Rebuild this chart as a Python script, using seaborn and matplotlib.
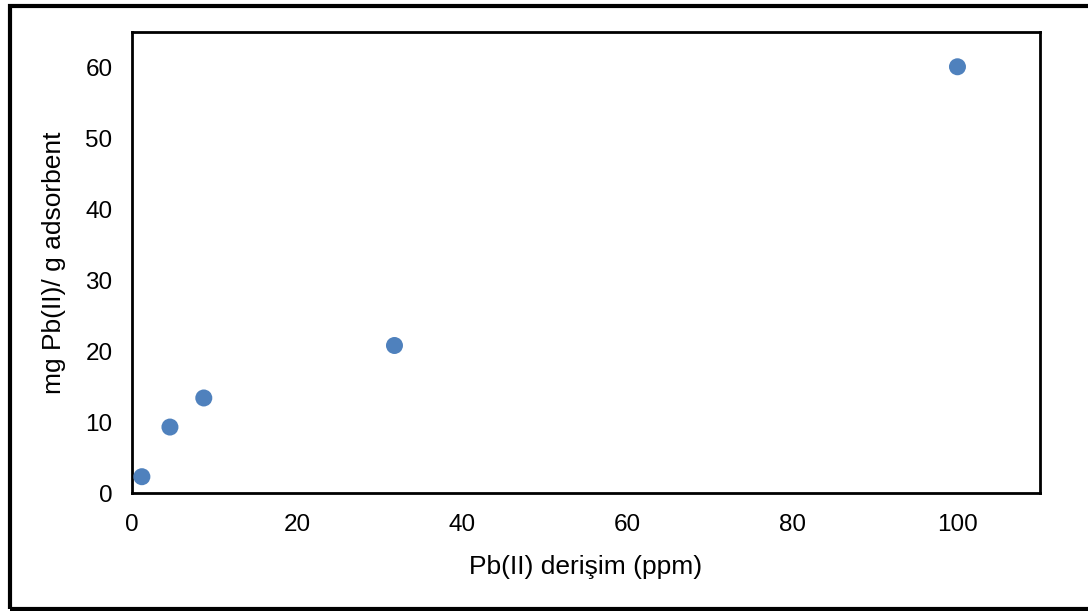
import matplotlib
matplotlib.use("Agg")
import matplotlib.pyplot as plt
import seaborn as sns
import pandas as pd
from matplotlib.patches import Rectangle

# Pb(II) adsorption data
concentration = [1.2, 4.6, 8.7, 31.8, 100.0]
adsorbed = [2.3, 9.3, 13.4, 20.8, 60.1]

df = pd.DataFrame({"conc": concentration, "q": adsorbed})

sns.set_style("white")
plt.rcParams["font.family"] = ["Liberation Sans", "DejaVu Sans"]
plt.rcParams["text.color"] = "black"
plt.rcParams["axes.labelcolor"] = "black"
plt.rcParams["xtick.color"] = "black"
plt.rcParams["ytick.color"] = "black"

fig = plt.figure(figsize=(10.88, 6.11), dpi=100)
ax = fig.add_axes([0.1213, 0.1931, 0.8346, 0.7545])

sns.scatterplot(data=df, x="conc", y="q", ax=ax, color="#4F81BD",
                s=150, edgecolor="none", zorder=3)

ax.set_xlim(0, 110)
ax.set_ylim(0, 65)
ax.set_xticks(range(0, 101, 20))
ax.set_yticks(range(0, 61, 10))
ax.tick_params(labelsize=17.5, length=0)
ax.tick_params(axis="x", pad=15)
ax.tick_params(axis="y", pad=14)
ax.set_xlabel("Pb(II) derişim (ppm)", fontsize=19, labelpad=14)
ax.set_ylabel("mg Pb(II)/ g adsorbent", fontsize=19, labelpad=14)

for sp in ax.spines.values():
    sp.set_visible(True)
    sp.set_color("black")
    sp.set_linewidth(2)

# outer frame around the chart area
fig.patches.append(Rectangle((0.0092, 0.004), 1.2, 0.986, transform=fig.transFigure,
                             fill=False, edgecolor="black", linewidth=3))

fig.savefig("out.png", dpi=100)
